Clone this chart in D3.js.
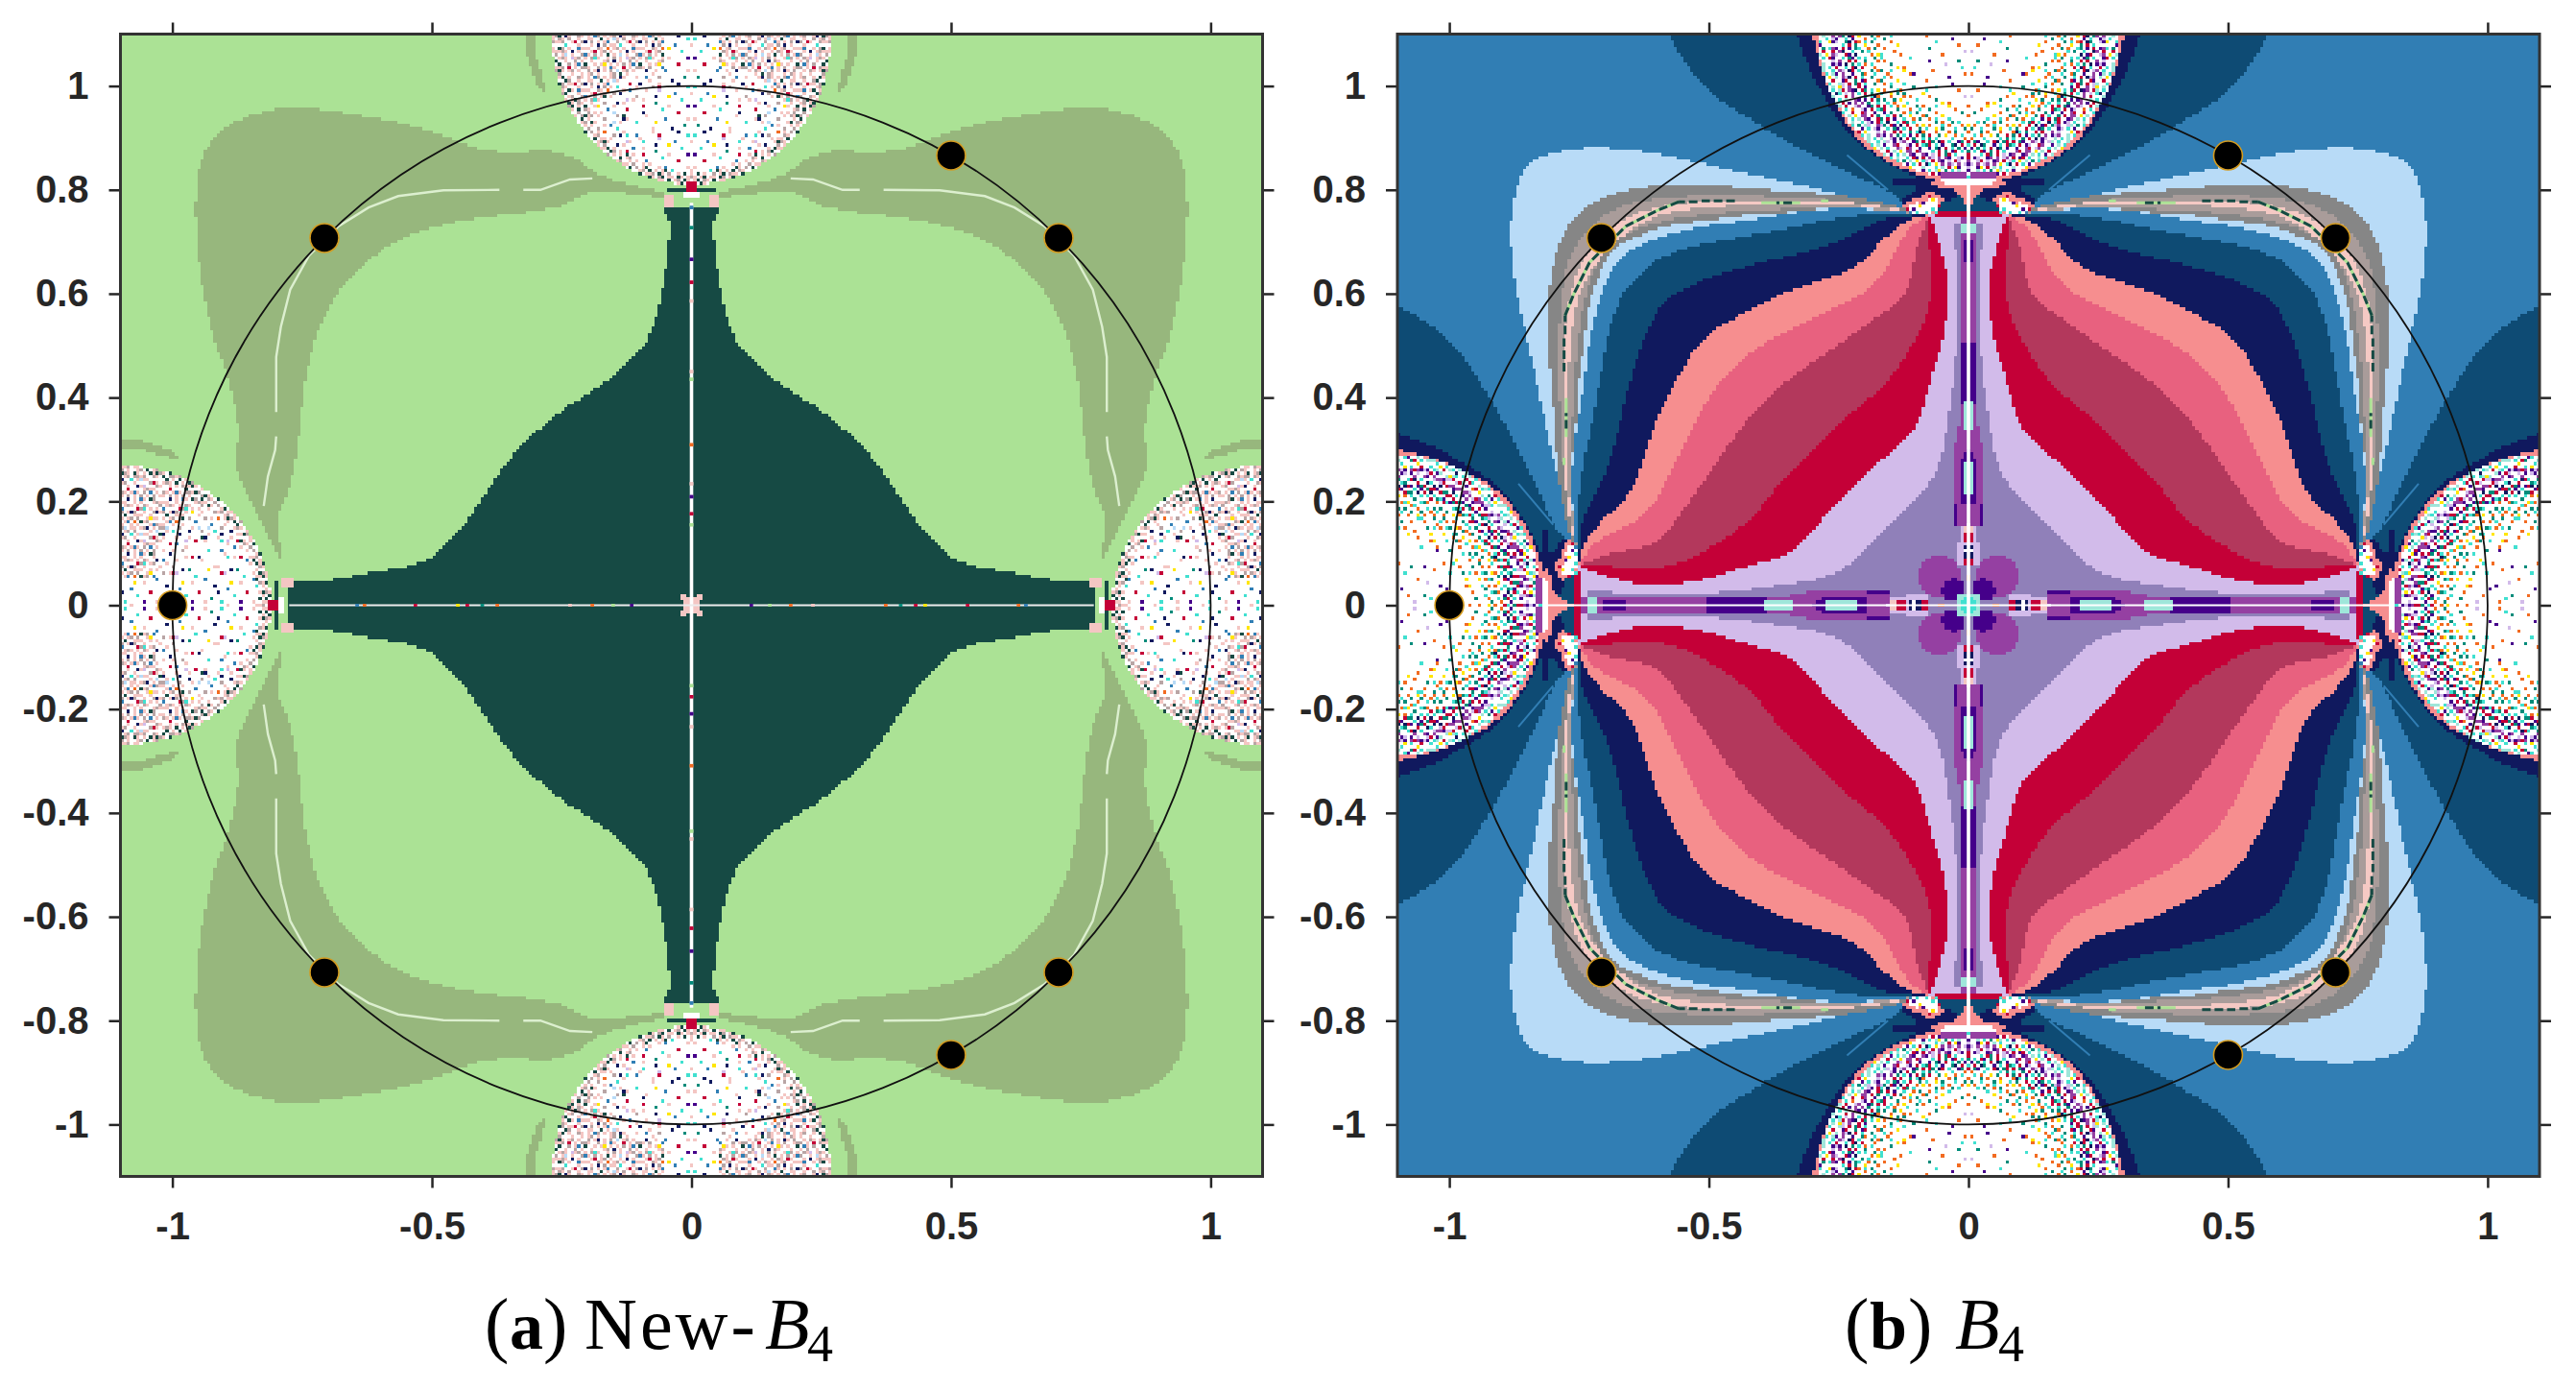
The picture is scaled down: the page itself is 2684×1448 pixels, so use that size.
<!DOCTYPE html>
<html><head><meta charset="utf-8">
<script src="https://cdn.jsdelivr.net/npm/d3@7"></script>
<style>html,body{margin:0;background:#fff}svg{display:block}</style></head>
<body><svg id="chart" width="2684" height="1448"></svg>
<script>
// ---------- values (first quadrant, data units) ----------
const xTicks=[-1,-0.5,0,0.5,1];
const yTicks=[-1,-0.8,-0.6,-0.4,-0.2,0,0.2,0.4,0.6,0.8,1];
const rootsX=[-1,-0.7071,0.7071,-0.7071,0.7071,0.5,0.5];
const rootsY=[0,0.7071,0.7071,-0.7071,-0.7071,0.866,-0.866];

const palette={'.':'#ffffff',p:'#F4C6C3',g:'#B9A5A5',t:'#174A44',n:'#10195E',b:'#317FB5',r:'#C40037',c:'#40E0D0',v:'#9540A2',i:'#45008A',o:'#F26B21',y:'#FFE600',l:'#D2BBEA',s:'#B8DBF7',m:'#9FE6DA',P:'#F68E8F',k:'#008B7A',h:'#ABE295',D:'#0E4B74',M:'#9080B9'};
const colLightGreen='#ABE295',colTeal='#164A44',colSage='#97B77D';
const colBlue='#317EB4',colDark='#0E4B74',colNavy='#10195E',colSky='#B8DBF7',colGray='#868686',colTaupe='#A99C9A',colPink='#F5C9C4',colPeach='#F68E8F',colPinkRose='#E8617F',colRose='#B3385C',colRed='#C40037',colLav='#D2BBEA',colMuted='#9080B9',colPurple='#9540A2',colIndigo='#45008A';

// panel (a)
const tealEdge=[[0.054,0.765],[0.05,0.755],[0.043,0.745],[0.043,0.71],[0.045,0.68],[0.054,0.622],[0.065,0.565],[0.083,0.514],[0.097,0.493],[0.126,0.464],[0.176,0.421],[0.248,0.378],[0.299,0.335],[0.349,0.284],[0.385,0.234],[0.414,0.191],[0.442,0.147],[0.493,0.097],[0.536,0.076],[0.608,0.065],[0.665,0.054],[0.723,0.043],[0.766,0.05],[0.777,0.04]];
const sageLobe=[[0.054,0.795],[0.176,0.824],[0.219,0.860],[0.277,0.878],[0.349,0.871],[0.421,0.881],[0.478,0.906],[0.550,0.926],[0.644,0.945],[0.730,0.957],[0.802,0.957],[0.853,0.942],[0.896,0.924],[0.932,0.888],[0.950,0.838],[0.955,0.788],[0.955,0.737],[0.950,0.665],[0.939,0.594],[0.921,0.514],[0.896,0.450],[0.881,0.392],[0.872,0.342],[0.878,0.270],[0.867,0.234],[0.838,0.183],[0.809,0.119],[0.784,0.068],[0.802,0.169],[0.773,0.227],[0.759,0.299],[0.752,0.363],[0.745,0.428],[0.730,0.500],[0.705,0.565],[0.673,0.615],[0.615,0.673],[0.550,0.712],[0.478,0.734],[0.392,0.748],[0.299,0.759],[0.241,0.770],[0.191,0.802],[0.054,0.784]];
const sageSliver=[[0.320,1.11],[0.302,1.11],[0.302,1.096],[0.298,1.053],[0.278,0.981],[0.298,1.003],[0.316,1.053],[0.320,1.096]];
const paleCurveA=[[0.824,0.191],[0.816,0.248],[0.802,0.299],[0.8,0.325]];
const paleCurveB=[[0.8,0.372],[0.8,0.392],[0.8,0.478],[0.791,0.536],[0.773,0.608],[0.737,0.673],[0.680,0.730],[0.622,0.766],[0.565,0.788],[0.478,0.799],[0.370,0.800]];
const paleCurveC=[[0.324,0.800],[0.291,0.800],[0.234,0.820],[0.191,0.822]];
const blocksA=[[0.035,0.05,0.768,0.785,'p'],[0.008,0.046,0.798,0.802,'t'],[0,0.008,0.80,0.815,'r'],[0,0.012,0.785,0.795,'.'],[0,0.012,0,0.012,'p'],[0.012,0.019,0.012,0.019,'p']];
const vSpecksA=[[0.766,'b'],[0.727,'k'],[0.666,'i'],[0.622,'r'],[0.586,'p'],[0.45,'p'],[0.435,'h'],[0.309,'o'],[0.234,'p'],[0.209,'i'],[0.176,'r'],[0.155,'h']];
const hSpecksA=[[0.644,'b'],[0.63,'o'],[0.532,'r'],[0.45,'y'],[0.432,'r'],[0.403,'k'],[0.374,'o'],[0.234,'p'],[0.191,'o'],[0.151,'h'],[0.115,'i']];

// panel (b): half curves, running from the corner to the diagonal
const corner=[0.0755,0.752];
const skyOuter=[corner,[0.219,0.784],[0.320,0.809],[0.428,0.831],[0.522,0.853],[0.608,0.871],[0.680,0.881],[0.759,0.881],[0.817,0.867],[0.85,0.85]];
const grayOuter=[corner,[0.212,0.787],[0.363,0.799],[0.421,0.802],[0.486,0.809],[0.565,0.811],[0.622,0.806],[0.680,0.795],[0.730,0.773],[0.752,0.752]];
const grayInner=[corner,[0.212,0.773],[0.263,0.766],[0.356,0.755],[0.428,0.752],[0.5,0.741],[0.572,0.734],[0.644,0.709],[0.687,0.687]];
const taupeOuter=[corner,[0.263,0.782],[0.392,0.788],[0.536,0.789],[0.622,0.781],[0.680,0.766],[0.73,0.73]];
const taupeInner=[corner,[0.263,0.77],[0.353,0.763],[0.5,0.755],[0.60,0.738],[0.66,0.715],[0.70,0.70]];
const pinkOuter=[corner,[0.227,0.779],[0.392,0.781],[0.514,0.779],[0.608,0.766],[0.665,0.745],[0.708,0.708]];
const pinkInner=[corner,[0.248,0.775],[0.392,0.773],[0.514,0.766],[0.593,0.755],[0.651,0.723],[0.69,0.69]];
const bandBlue=[corner,[0.219,0.766],[0.320,0.759],[0.421,0.741],[0.514,0.730],[0.586,0.712],[0.651,0.687],[0.668,0.668]];
const bandDark=[corner,[0.176,0.755],[0.284,0.741],[0.356,0.723],[0.464,0.705],[0.550,0.687],[0.608,0.662],[0.635,0.635]];
const bandNavy=[corner,[0.155,0.748],[0.205,0.723],[0.284,0.687],[0.392,0.662],[0.486,0.637],[0.558,0.604],[0.585,0.585]];
const bandPeach=[corner,[0.122,0.741],[0.169,0.701],[0.212,0.651],[0.299,0.619],[0.371,0.597],[0.442,0.558],[0.515,0.515]];
const bandPinkRose=[corner,[0.112,0.730],[0.140,0.687],[0.176,0.615],[0.255,0.576],[0.327,0.540],[0.392,0.507],[0.457,0.457]];
const bandRose=[corner,[0.097,0.701],[0.108,0.651],[0.119,0.594],[0.183,0.550],[0.263,0.493],[0.327,0.450],[0.395,0.395]];
const bandRed=[corner,[0.077,0.701],[0.068,0.644],[0.076,0.565],[0.112,0.493],[0.162,0.421],[0.227,0.371],[0.299,0.299]];
const bandLav=[corner,[0.058,0.709],[0.04,0.637],[0.04,0.558],[0.054,0.493],[0.076,0.421],[0.097,0.342],[0.155,0.291],[0.225,0.225]];
const bandMuted=[[0.03,0.745],[0.018,0.608],[0.025,0.464],[0.04,0.356],[0.054,0.263],[0.104,0.198],[0.155,0.155]];
const darkLobe=[[0.576,1.11],[0.576,1.097],[0.543,1.040],[0.5,0.989],[0.464,0.964],[0.392,0.917],[0.320,0.878],[0.219,0.827],[0.147,0.795],[0.083,0.759],[0.032,0.752],[0,0.752]];
const navyRing=[[0.331,1.11],[0.331,1.097],[0.313,1.047],[0.284,0.989],[0.241,0.917],[0.183,0.867],[0.104,0.824],[0.047,0.802],[0,0.795]];
const peachRing=[[0.3,1.11],[0.3,1.097],[0.284,1.032],[0.255,0.960],[0.219,0.903],[0.169,0.860],[0.104,0.831],[0.054,0.816],[0,0.81]];
const axisBand=[0.13,0.74,0,0.011,'v'];
const petals=[[0.055,0.055,0.041,0.041,colPurple],[0.247,0,0.12,0.03,colPurple],[0.029,0.029,0.022,0.022,colIndigo],[0.25,0,0.05,0.016,colIndigo]];
const blocksB=[[0.39,0.50,0,0.01,'i'],[0.665,0.70,0,0.009,'i'],[0.2,0.22,0,0.012,'i'],[0.34,0.39,0,0.008,'m'],[0.247,0.27,0,0.008,'m'],[0.22,0.24,0,0.008,'m'],[0.72,0.735,0,0.01,'m'],
 [0.079,0.119,0,0.016,'l'],[0.079,0.094,0,0.009,'r'],[0.094,0.103,0,0.009,'n'],[0.103,0.11,0,0.009,'.'],[0.11,0.118,0,0.006,'n'],[0.12,0.156,0,0.012,'l'],[0.122,0.14,0,0.008,'r'],[0.14,0.15,0,0.006,'p'],[0.158,0.19,0.017,0.022,'i'],[0.158,0.19,0.009,0.017,'v'],[0.048,0.054,0,0.003,'o'],[0,0.021,0,0.021,'m'],[0,0.012,0,0.008,'c'],
 [0.005,0.05,0.826,0.832,'v'],[0,0.02,0.74,0.75,'v'],[0.02,0.05,0.738,0.75,'l']];
// knot under each disk, read cell by cell: rows go downward, columns go outward from the axis
const knotTopRow=132;
const knotRows=[
 ".........PPnnnnnnnnnnnnn",
 "........PPPPnnnnnnnnnnnn",
 "PPPPPPPPPPnnnnnnnDDDDDDD",
 "PPPPPnnnnnnnnnnnnDDDDDDD",
 "PPPPnnnnnnnPPPnnnnDDDDD ",
 "PPPDnnnnnPPPrPPnnnnnDDD ",
 "PPDDDDnnPP.y.PPPPPnnnD  ",
 "PPDDDDDDDP....iP.PPPn   ",
 "PDDDDDDDDr.....y...PP   ",
 "PDDDDDDDDD.c.....i.r    ",
 "rrrrrrrrrrcP.c..c.b     ",
 "rrrrrrrrrrr             "];
const dashesGreenB=[[[0.27,0.779],[0.284,0.779]],[[0.324,0.775],[0.399,0.775]],[[0.558,0.777],[0.60,0.76],[0.66,0.73],[0.69,0.70]]];
const dashesTealB=[[[0.45,0.779],[0.514,0.779]],[[0.34,0.775],[0.37,0.775]],[[0.522,0.777],[0.558,0.777]],[[0.558,0.777],[0.60,0.76],[0.66,0.73],[0.69,0.70]]];
const streakB=[[0.234,0.867],[0.155,0.80]];

// hand-read speckle tiles
const tileEdgeA=["gp.pt.pp.tg.pt",".pt.gp.t.pp..g","pg.tp..g..p.tp","..pp.tg.p.gt..",".pg.p.t.p.p.gt","pp.t.gp.t..pgp","g.tp.p..gpt.p.",".p..g.ppt..tgp","tp.g.t.p.gp...",".gp..pg.tp.p.t","p.t.p..g.pt.gp"];
const tileMidA=["pg..pn.gp.p.gb.p.",".p..g.ps.p.t..pp.","g.rp..g..bp.p.g.n",".p...c.pp.g.n.p..","pb..p.gp.o.pg..pp",".p.n.p..p.gp.rp..","g..p.s.p.t.p.g.pb",".gpl.p.g.p..pcg.p","p.g..p.n.gp...p..",".bp.g.p.p.yp.p..t","g.p.r..pb.p.g..pg",".p.gp.s.g.p.np.g.","p..p.t.gp...p.gp."];
const tileHaloA=["p...n.....g...b..",".....p.s.....p...","..r.....b.p.....n","p.....c.....g....","..b.p.....o...p..",".....n.g.....r...","g.......p.t.....b",".p.l.......p.c...","....p.n...g.....p",".b.....p....y....","...r.....b...g...",".p.....s...p..n..","....t.g.....p...."];
const tileCoreA=["....n.......p......",".c........r......b.","..........l.....p..","p....b.........c...",".......y...n.......","...c...........p...","...........k.......",".i.....p.......r...",".........c.........","....r..........n...","..............p....",".p......b..........","...........y.....c.","..k................","......n.....p......"];
const tileEdgeB=["c..m.i.yc.r.m.","m.c..n..o.c.i.",".y..c.m.r..c.m","r...ic.y.m.r..",".c.k..m.c.i.m.","m..r.c..m.c.y.","c.y.m.k.c.r.m.",".r.c.i..r.y.cn","m...y.r.m.c...","i..m.c.k.ym.c.",".c.m.r.c.i.r.m"];
const tileRingB=["v.iv..vl.i.lv.","l.v.il..rv.v.i","iv..vr.lv.lv.l",".vr.vv.il.ri..","v..iv.v.vr.l.i","r.il..iv.v.lv.","v..lr.l.iv.r.l","il.v.lv.v.lv..","l..iv.l.v.r.v.","v.r.v.iv..v.il","v.lr.v.v.il..r"];
const tileRedB=["r.ki..c.rn.kr.","c.r.nk..i.c.rk",".i.k.c.r.nk.i.","k.c.ri.k.r.c..","r...c.rk.i.r.k",".kr.i.r.c..n.c","i.c.kr.n.ir.k.","..k.r.c.ik.c.r",".nc.k..r.r.k.i","k.r.i.c.k.n.r.","c..k.r.nr.c.k."];
const tileOrangeB=["o.k...y.o.c..k",".c..o...k..o..","..k.c.o...y.c.","o...y..k.o...k",".k.o..c...c.o.","...c.k..o.k...","y.o...o.c...o.",".k..c...k.y..c","o...k.o...o...","..c.o..y.k..k.",".o...c...o.c.."];
const tileThinB=["o.....y...c...","....o.......k.","..k.......o...","o.......y.....","......c.....o.","...k.....o....",".......o.....c","y.....k.......","....o.......o.","..c.......k...","......o.y....."];
const tileCoreB=[".............o.......",".....i...............","..........c..........","...o.................","............k........",".l...................","........o............","..................c..","...k........i........",".......l.............","..c..................","...........o.........",".o...............i...","......i.............."];

// ---------- helpers ----------
const cell=0.0062, N=Math.ceil(1.11/cell);
const svg=d3.select('#chart');
const tick=(t,i,j)=>{const row=t[j%t.length]||'';return row[i%row.length]||'.';};
function chaikin(pts,n=2){let a=pts;for(let k=0;k<n;k++){const b=[a[0]];for(let i=0;i<a.length-1;i++){const [x0,y0]=a[i],[x1,y1]=a[i+1];b.push([.75*x0+.25*x1,.75*y0+.25*y1],[.25*x0+.75*x1,.25*y0+.75*y1]);}b.push(a[a.length-1]);a=b;}return a;}
const swap=p=>p.map(([x,y])=>[y,x]);
const sym=h=>chaikin(h.concat(swap(h).reverse().slice(1)));
function polyLayer(poly,color){const xs=poly.map(d=>d[0]),ys=poly.map(d=>d[1]);const x0=d3.min(xs),x1=d3.max(xs),y0=d3.min(ys),y1=d3.max(ys);
 return (x,y)=>(x<x0||x>x1||y<y0||y>y1)?null:(d3.polygonContains(poly,[x,y])?color:null);}
function both(poly,color){return [polyLayer(poly,color),polyLayer(swap(poly),color)];}
function ellipseLayer([cx,cy,rx,ry,color]){return (x,y)=>{const a=(x-cx)/rx,b=(y-cy)/ry,a2=(x-cy)/ry,b2=(y-cx)/rx;return (a*a+b*b<=1||a2*a2+b2*b2<=1)?color:null;};}
function blockLayer([x0,x1,y0,y1,ch]){const color=palette[ch];const half=cell/2;return (x,y)=>{const A=x>=x0-half&&x<x1+half&&y>=y0-half&&y<y1+half;const B=y>=x0-half&&y<x1+half&&x>=y0-half&&x<y1+half;return (A||B)?color:null;};}
function knotLayer(x,y,i,j){
 const look=(col,rowIdx)=>{if(rowIdx<0||rowIdx>=knotRows.length)return null;const ch=knotRows[rowIdx][col];return (ch&&ch!==' ')?palette[ch]:null;};
 return look(i,knotTopRow-j)||look(j,knotTopRow-i);
}

function drawRaster(g,sx,sy,base,layers){
 const pieces=new Map();
 const add=(c,d)=>{if(!pieces.has(c))pieces.set(c,[]);pieces.get(c).push(d);};
 // cell edges on the mirrored axes meet at zero, so mirrored copies never overlap
 const edge=k=>k<=0?0:(k-.5)*cell;
 for(let j=0;j<=N;j++){
  const row=[];
  for(let i=0;i<=N;i++){
   let col=null;const x=i*cell,y=j*cell;
   for(const L of layers){const c=L(x,y,i,j);if(c)col=c;}
   row.push(col);
  }
  let s=0;
  for(let i=1;i<=N+1;i++){
   if(i===N+1||row[i]!==row[s]){
    if(row[s]){
     for(const fx of [1,-1])for(const fy of [1,-1]){
      const a=Math.round(sx(fx*edge(s))),e=Math.round(sx(fx*edge(i)));
      const b=Math.round(sy(fy*edge(j))),f=Math.round(sy(fy*edge(j+1)));
      add(row[s],`M${Math.min(a,e)} ${Math.min(b,f)}H${Math.max(a,e)}V${Math.max(b,f)}H${Math.min(a,e)}Z`);
     }
    }
    s=i;
   }
  }
 }
 g.append('rect').attr('x',sx(-1.1)).attr('y',sy(1.1)).attr('width',sx(1.1)-sx(-1.1)).attr('height',sy(-1.1)-sy(1.1)).attr('fill',base);
 g.selectAll('path.cell').data([...pieces.entries()]).join('path').attr('class','cell')
  .attr('d',d=>d[1].join('')).attr('fill',d=>d[0]).attr('shape-rendering','crispEdges');
}

function diskLayerA(x,y,i,j){
 const top=y>=x, u=top?x:y, v=1.1-(top?y:x), iu=top?i:j, jv=Math.round(v/cell);
 const t=Math.hypot(u/0.27,v/0.29);
 if(t>1)return null;
 let ch;
 const yy=1.1-v;
 const coreT=Math.min(Math.hypot(u/0.13,(yy-0.925)/0.085),(u<0.05&&yy>0.98)?0.9:9);
 if(t>0.92)ch=tick(tileEdgeA,iu,jv);
 else if(coreT<1)ch=tick(tileCoreA,iu,jv);
 else if(coreT<1.45)ch=tick(tileHaloA,iu,jv);
 else ch=tick(tileMidA,iu,jv);
 return palette[ch];
}
function diskLayerB(x,y,i,j){
 const top=y>=x, u=top?x:y, v=1.1-(top?y:x), iu=top?i:j, jv=Math.round(v/cell);
 const t=Math.hypot(u/0.29,v/0.28);
 if(t>1)return null;
 let ch;
 if(t>0.92)ch=tick(tileEdgeB,iu,jv);
 else if(t>0.85)ch=tick(tileRingB,iu,jv);
 else if(t>0.74)ch=tick(tileRedB,iu,jv);
 else if(t>0.6)ch=tick(tileOrangeB,iu,jv);
 else if(t>0.47)ch=tick(tileThinB,iu,jv);
 else ch=tick(tileCoreB,iu,jv);
 return palette[ch];
}

function panelAxes(g,sx,sy){
 const fmt=d=>String(d);
 const ink='#262626';
 const style=(a)=>{a.selectAll('.domain').remove();a.selectAll('line').attr('stroke',ink).attr('stroke-width',2.5);
  a.selectAll('text').attr('fill',ink).attr('font-family','"Liberation Sans",Arial,sans-serif').attr('font-weight','700').attr('font-size',40);};
 const b=g.append('g').attr('transform',`translate(0,${sy(-1.1)})`).call(d3.axisBottom(sx).tickValues(xTicks).tickFormat(fmt).tickSize(12).tickPadding(25));style(b);
 const t=g.append('g').attr('transform',`translate(0,${sy(1.1)})`).call(d3.axisTop(sx).tickValues(xTicks).tickFormat('').tickSize(12));style(t);
 const l=g.append('g').attr('transform',`translate(${sx(-1.1)},0)`).call(d3.axisLeft(sy).tickValues(yTicks).tickFormat(fmt).tickSize(12).tickPadding(21));style(l);
 const r=g.append('g').attr('transform',`translate(${sx(1.1)},0)`).call(d3.axisRight(sy).tickValues(yTicks).tickFormat('').tickSize(12));style(r);
 g.append('rect').attr('x',sx(-1.1)).attr('y',sy(1.1)).attr('width',sx(1.1)-sx(-1.1)).attr('height',sy(-1.1)-sy(1.1)).attr('fill','none').attr('stroke','#333').attr('stroke-width',3);
}
function overlays(g,sx,sy){
 g.append('circle').attr('cx',sx(0)).attr('cy',sy(0)).attr('r',sx(1)-sx(0)).attr('fill','none').attr('stroke','#111').attr('stroke-width',1.8);
 g.selectAll('circle.root').data(rootsX.map((v,i)=>[v,rootsY[i]])).join('circle').attr('class','root')
  .attr('cx',d=>sx(d[0])).attr('cy',d=>sy(d[1])).attr('r',15).attr('fill','#000').attr('stroke','#D49B1F').attr('stroke-width',1.6);
}
const mirrors=[[1,1],[-1,1],[1,-1],[-1,-1]];
function polyline(g,sx,sy,pts,color,width,dash){
 for(const [fx,fy] of mirrors){
  g.append('path').attr('d',d3.line().x(d=>sx(fx*d[0])).y(d=>sy(fy*d[1]))(pts)).attr('fill','none').attr('stroke',color).attr('stroke-width',width).attr('stroke-dasharray',dash||null);
 }
}
function axisLines(g,sx,sy,reachV,reachH,colH){
 g.append('rect').attr('x',sx(0)-1.8).attr('width',3.6).attr('y',sy(reachV)).attr('height',sy(-reachV)-sy(reachV)).attr('fill','#fff');
 g.append('rect').attr('y',sy(0)-1).attr('height',2).attr('x',sx(-reachH)).attr('width',sx(reachH)-sx(-reachH)).attr('fill',colH);
}

// ---------- panel (a) ----------
{
 const sx=d3.scaleLinear([-1.1,1.1],[125.5,1315.5]), sy=d3.scaleLinear([-1.1,1.1],[1225.5,35.5]);
 const g=svg.append('g');
 g.append('clipPath').attr('id','clipA').append('rect').attr('x',sx(-1.1)).attr('y',sy(1.1)).attr('width',sx(1.1)-sx(-1.1)).attr('height',sy(-1.1)-sy(1.1));
 const plot=g.append('g').attr('clip-path','url(#clipA)');
 const teal=[[0,0],[0,0.765]].concat(chaikin(tealEdge,1),[[0.777,0]]);
 const layers=[polyLayer(chaikin(sageLobe,1),colSage),...both(sageSliver,colSage),polyLayer(teal,colTeal),diskLayerA,...blocksA.map(blockLayer)];
 drawRaster(plot,sx,sy,colLightGreen,layers);
 for(const c of [paleCurveA,paleCurveB,paleCurveC])polyline(plot,sx,sy,c,'#DCEFCF',2.4);
 axisLines(plot,sx,sy,0.775,0.775,'#ECECEC');
 for(const [fx,fy] of mirrors){
  plot.selectAll(null).data(vSpecksA).join('rect').attr('x',sx(0)-1.8).attr('width',3.6).attr('y',d=>sy(fy*d[0])-1.7).attr('height',3.4).attr('fill',d=>palette[d[1]]);
  plot.selectAll(null).data(hSpecksA).join('rect').attr('y',sy(0)-1.5).attr('height',3).attr('x',d=>sx(fx*d[0])-1.7).attr('width',3.4).attr('fill',d=>palette[d[1]]);
 }
 overlays(plot,sx,sy);
 panelAxes(g,sx,sy);
}
// ---------- panel (b) ----------
{
 const sx=d3.scaleLinear([-1.1,1.1],[1456,2646]), sy=d3.scaleLinear([-1.1,1.1],[1225.5,35.5]);
 const g=svg.append('g');
 g.append('clipPath').attr('id','clipB').append('rect').attr('x',sx(-1.1)).attr('y',sy(1.1)).attr('width',sx(1.1)-sx(-1.1)).attr('height',sy(-1.1)-sy(1.1));
 const plot=g.append('g').attr('clip-path','url(#clipB)');
 const ring=(h)=>[[0,1.11]].concat(chaikin(h,1));
 const lav=sym(bandLav);
 const lens=(h)=>sym(h).concat(lav.slice().reverse());
 const band=(o,i)=>sym(o).concat(sym(i).reverse());
 const layers=[
  ...both(ring(darkLobe),colDark),...both(ring(navyRing),colNavy),...both(ring(peachRing),colPeach),
  polyLayer(sym(skyOuter),colSky),
  polyLayer(band(grayOuter,grayInner),colGray),polyLayer(band(taupeOuter,taupeInner),colTaupe),polyLayer(band(pinkOuter,pinkInner),colPink),
  polyLayer([[0,0],[0,0.752]].concat(lav,[[0.752,0]]),colLav),
  polyLayer([[0,0],[0,0.75]].concat(sym(bandMuted),[[0.75,0]]),colMuted),
  polyLayer(lens(bandBlue),colBlue),polyLayer(lens(bandDark),colDark),polyLayer(lens(bandNavy),colNavy),polyLayer(lens(bandPeach),colPeach),
  polyLayer(lens(bandPinkRose),colPinkRose),polyLayer(lens(bandRose),colRose),polyLayer(lens(bandRed),colRed),
  blockLayer(axisBand),
  ...petals.map(ellipseLayer),
  diskLayerB,
  ...blocksB.map(blockLayer),
  knotLayer
 ];
 drawRaster(plot,sx,sy,colBlue,layers);
 for(const c of [streakB,swap(streakB)])polyline(plot,sx,sy,c,colBlue,2);
 for(const c of dashesGreenB){polyline(plot,sx,sy,c,'#ABE295',3);polyline(plot,sx,sy,swap(c),'#ABE295',3);}
 for(const c of dashesTealB){polyline(plot,sx,sy,c,colTeal,3,'9 4');polyline(plot,sx,sy,swap(c),colTeal,3,'9 4');}
 axisLines(plot,sx,sy,0.81,0.81,'#fff');
 overlays(plot,sx,sy);
 panelAxes(g,sx,sy);
}
// ---------- captions ----------
const serif='"Liberation Serif","Times New Roman",serif';
function caption(parts,base){
 const t=svg.append('text').attr('y',base).attr('font-family',serif).attr('font-size',76).attr('fill','#000');
 for(const p of parts){
  const s=t.append('tspan').attr('x',p.x).attr('y',p.dy?base+p.dy:base).text(p.text);
  if(p.ls)s.attr('letter-spacing',p.ls);
  if(p.bold)s.attr('font-weight','700');
  if(p.italic)s.attr('font-style','italic');
  if(p.size)s.attr('font-size',p.size);
 }
}
caption([{text:'(',x:505},{text:'a',x:531,bold:true,size:70},{text:')',x:566},{text:'New-',x:609,ls:3},{text:'B',x:797,italic:true},{text:'4',x:841,dy:13,size:54}],1405);
caption([{text:'(',x:1922},{text:'b',x:1948,bold:true,size:70},{text:')',x:1988},{text:'B',x:2037,italic:true},{text:'4',x:2082,dy:13,size:54}],1405);
</script></body></html>
